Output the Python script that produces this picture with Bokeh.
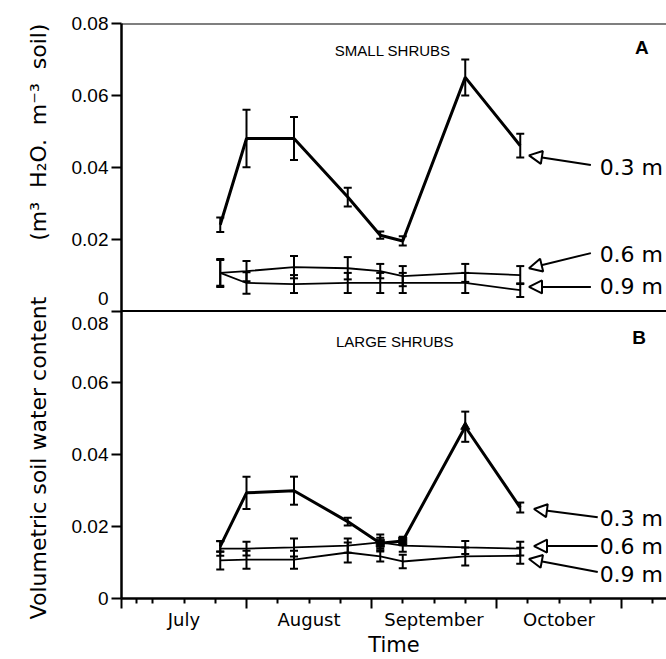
import numpy as np
from bokeh.plotting import figure
from bokeh.models import (Range1d, FixedTicker, ColumnDataSource, Whisker, TeeHead,
                          Span, Label, Arrow, NormalHead)
from bokeh.embed import file_html
from bokeh.resources import INLINE

# Sampling dates, expressed in months after 1 July
sample_month = [0.79, 1.00, 1.38, 1.81, 2.07, 2.25, 2.75, 3.19]
month_names = ["July", "August", "September", "October"]

# Panel A - small shrubs: mean volumetric water content and error at each depth
small_03 = [0.0240, 0.0480, 0.0480, 0.0317, 0.0211, 0.0195, 0.0650, 0.0460]
small_03_err = [0.0020, 0.0080, 0.0060, 0.0026, 0.0010, 0.0013, 0.0050, 0.0033]
small_06 = [0.0106, 0.0111, 0.0122, 0.0119, 0.0111, 0.0097, 0.0106, 0.0100]
small_06_err = [0.0036, 0.0028, 0.0031, 0.0031, 0.0020, 0.0028, 0.0025, 0.0025]
small_09 = [0.0106, 0.0078, 0.0075, 0.0078, 0.0078, 0.0078, 0.0078, 0.0058]
small_09_err = [0.0039, 0.0030, 0.0025, 0.0028, 0.0028, 0.0028, 0.0028, 0.0019]

# Panel B - large shrubs
large_03 = [0.0145, 0.0294, 0.0300, 0.0214, 0.0154, 0.0160, 0.0478, 0.0253]
large_03_err = [0.0015, 0.0045, 0.0039, 0.0011, 0.0015, 0.0012, 0.0042, 0.0014]
large_06 = [0.0139, 0.0139, 0.0142, 0.0147, 0.0156, 0.0147, 0.0142, 0.0139]
large_06_err = [0.0020, 0.0019, 0.0025, 0.0020, 0.0022, 0.0017, 0.0018, 0.0019]
large_09 = [0.0106, 0.0108, 0.0108, 0.0128, 0.0117, 0.0103, 0.0117, 0.0119]
large_09_err = [0.0025, 0.0025, 0.0025, 0.0028, 0.0014, 0.0019, 0.0025, 0.0022]

y_ticks = [0, 0.02, 0.04, 0.06, 0.08]
y_tick_labels = ["0", "0.02", "0.04", "0.06", "0.08"]

X_END = 4.36
PANEL = 0.08

p = figure(width=666, height=659, output_backend="svg", toolbar_location=None,
           x_range=Range1d(0, X_END), y_range=Range1d(0, 2 * PANEL),
           min_border_left=121, min_border_right=0, min_border_top=23,
           min_border_bottom=60)
# lower half of the frame is panel B, upper half is panel A
p.extra_y_ranges = {"top": Range1d(-PANEL, PANEL)}
p.outline_line_color = None
p.xgrid.visible = False
p.ygrid.visible = False
p.background_fill_color = "white"
p.border_fill_color = "white"

SANS = "DejaVu Sans"
HELV = "Liberation Sans"
NBSP = "\u00a0"

# ---- x axis: month boundaries (long ticks), quarter-month ticks, month names
xa = p.xaxis[0]
month_starts = [0, 1, 2, 3, 4]
quarters = [0.12] + [m + q for m in range(5) for q in (0.25, 0.5, 0.75) if m + q < X_END]
xa.ticker = FixedTicker(ticks=quarters, minor_ticks=month_starts)
overrides = {t: "" for t in quarters}
for i, name in enumerate(month_names):
    overrides[i + 0.5] = name
xa.major_label_overrides = overrides
xa.major_tick_out = 5
xa.major_tick_in = 0
xa.minor_tick_out = 10
xa.minor_tick_in = 0
xa.major_tick_line_width = 2
xa.minor_tick_line_width = 2
xa.axis_line_width = 2.5
xa.major_label_standoff = 0
xa.major_label_text_font = SANS
xa.major_label_text_font_size = "18px"
xa.major_label_text_color = "black"
xa.axis_label = "Time"
xa.axis_label_text_font = SANS
xa.axis_label_text_font_size = "21px"
xa.axis_label_text_font_style = "normal"
xa.axis_label_text_color = "black"
xa.axis_label_standoff = 0

# ---- y axis: both panels share the left spine
ya = p.yaxis[0]
lower_ticks = list(y_ticks)
upper_ticks = [t + PANEL for t in y_ticks[1:]]
ya.ticker = FixedTicker(ticks=lower_ticks + upper_ticks, minor_ticks=[])
y_over = {t: lab for t, lab in zip(lower_ticks, y_tick_labels)}
y_over.update({t: lab for t, lab in zip(upper_ticks, y_tick_labels[1:])})
# shared boundary: zero of panel A sits above, top of panel B below
y_over[PANEL] = y_tick_labels[0] + "\n" + y_tick_labels[-1]
ya.major_label_overrides = y_over
ya.major_tick_out = 10
ya.major_tick_in = 0
ya.major_tick_line_width = 2
ya.axis_line_width = 2.5
ya.major_label_standoff = 3
ya.major_label_text_font = HELV
ya.major_label_text_font_size = "19px"
ya.major_label_text_color = "black"
ya.axis_label = ("Volumetric soil water content" + NBSP * 8 +
                 "(m\u00b3" + NBSP * 2 + "H\u2082O." + NBSP * 2 + "m\u207b\u00b3" +
                 NBSP * 2 + "soil)" + NBSP * 3)
ya.axis_label_text_font = SANS
ya.axis_label_text_font_size = "22px"
ya.axis_label_text_font_style = "normal"
ya.axis_label_text_color = "black"
ya.axis_label_standoff = 18

# frame top and the divider between panels
p.add_layout(Span(location=2 * PANEL, dimension="width", line_color="black", line_width=2))
p.add_layout(Span(location=PANEL, dimension="width", line_color="black", line_width=2))


def add_series(values, errors, width, range_name):
    lower = [v - e for v, e in zip(values, errors)]
    upper = [v + e for v, e in zip(values, errors)]
    src = ColumnDataSource(dict(x=sample_month, y=values, lower=lower, upper=upper))
    kw = {} if range_name is None else {"y_range_name": range_name}
    p.line("x", "y", source=src, line_color="black", line_width=width, **kw)
    p.add_layout(Whisker(source=src, base="x", lower="lower", upper="upper",
                         line_color="black", line_width=2,
                         lower_head=TeeHead(size=8, line_width=2),
                         upper_head=TeeHead(size=8, line_width=2), **kw))
    return src


add_series(small_06, small_06_err, 1.8, "top")
add_series(small_09, small_09_err, 1.8, "top")
add_series(small_03, small_03_err, 3, "top")
add_series(large_06, large_06_err, 1.8, None)
add_series(large_09, large_09_err, 1.8, None)
add_series(large_03, large_03_err, 3, None)

# symbols still visible on the 0.3 m large-shrub line
p.scatter([sample_month[4], sample_month[5]], [large_03[4], large_03[5]],
          marker="square", size=8, color="black")
p.scatter([sample_month[6]], [large_03[6]], marker="triangle", size=9, color="black")


def data_label(text, x, y, range_name, font, size, style="normal", align="center"):
    kw = {} if range_name is None else {"y_range_name": range_name}
    p.add_layout(Label(x=x, y=y, text=text, text_align=align, text_baseline="middle",
                       text_font=font, text_font_size=size, text_font_style=style,
                       text_color="black", **kw))


# panel headings
data_label("SMALL SHRUBS", 2.17, 0.0725, "top", HELV, "15px")
data_label("LARGE SHRUBS", 2.186, 0.0715, None, HELV, "15px")
data_label("A", 4.163, 0.0733, "top", HELV, "19px", style="bold")
data_label("B", 4.14, 0.0726, None, HELV, "19px", style="bold")

# depth call-outs with open arrowheads
depths = ["0.3 m", "0.6 m", "0.9 m"]


def callout(text, label_y, tail, tip, range_name):
    kw = {} if range_name is None else {"y_range_name": range_name}
    p.add_layout(Arrow(x_start=tail[0], y_start=tail[1], x_end=tip[0], y_end=tip[1],
                       line_color="black", line_width=2,
                       end=NormalHead(size=13, fill_color="white", line_color="black",
                                      line_width=2), **kw))
    data_label(text, 3.825, label_y, range_name, SANS, "22px", align="left")


callout(depths[0], 0.0400, (3.755, 0.0406), (3.26, 0.0433), "top")
callout(depths[1], 0.0156, (3.755, 0.0161), (3.26, 0.0119), "top")
callout(depths[2], 0.0067, (3.755, 0.0067), (3.26, 0.0067), "top")
callout(depths[0], 0.0224, (3.81, 0.0226), (3.30, 0.0249), None)
callout(depths[1], 0.0146, (3.81, 0.0146), (3.30, 0.0146), None)
callout(depths[2], 0.0068, (3.81, 0.0074), (3.26, 0.0110), None)

open("out.html", "w").write(file_html(p, INLINE))
